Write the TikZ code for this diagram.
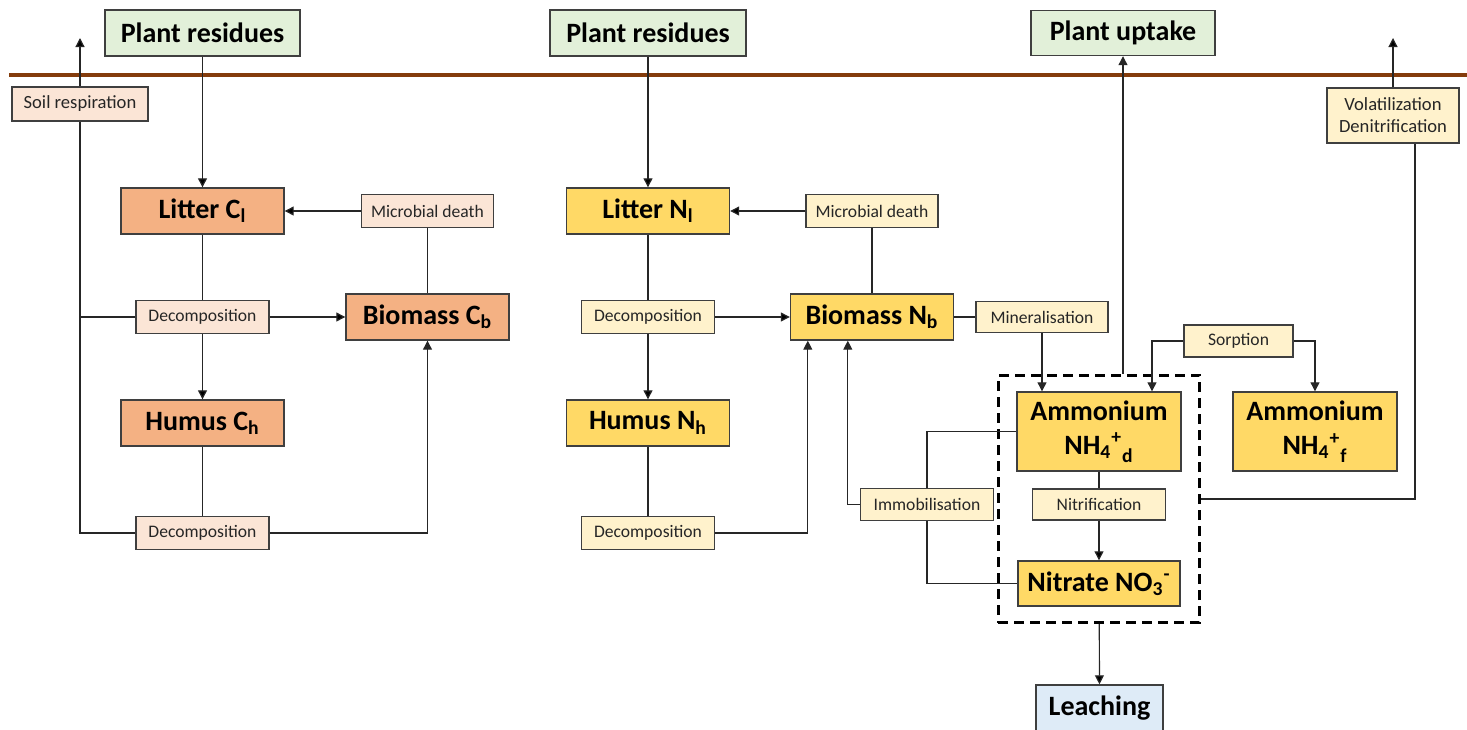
\documentclass[tikz,border=0pt]{standalone}
\usepackage{fontspec}
\setmainfont{Carlito}
\usetikzlibrary{arrows.meta,positioning,fit}

\definecolor{plantfill}{HTML}{E2F0D9}
\definecolor{leachfill}{HTML}{DEEBF7}
\definecolor{cpoolfill}{HTML}{F4B183}
\definecolor{cprocfill}{HTML}{FBE5D6}
\definecolor{npoolfill}{HTML}{FFD966}
\definecolor{nprocfill}{HTML}{FFF2CC}
\definecolor{soilbrown}{HTML}{843C0C}
\definecolor{edgegray}{HTML}{3F3F3F}

\begin{document}
\begin{tikzpicture}[x=0.5pt,y=-0.5pt,on grid,line width=0.6pt,
    >={Triangle[length=4.5pt,width=4.5pt]}]
  \tikzstyle{pool}=[draw=edgegray, line width=0.7pt, inner sep=0pt, align=center,
    font=\fontsize{14}{17}\selectfont\bfseries, minimum width=81.5pt, minimum height=23pt]
  \tikzstyle{cpool}=[pool, fill=cpoolfill]
  \tikzstyle{npool}=[pool, fill=npoolfill]
  \tikzstyle{outside}=[pool, fill=plantfill]
  \tikzstyle{proc}=[draw=edgegray, line width=0.7pt, inner sep=0pt, align=center, text=black!85,
    font=\fontsize{8.8}{11}\selectfont, minimum width=66.5pt, minimum height=16.5pt]
  \tikzstyle{cproc}=[proc, fill=cprocfill]
  \tikzstyle{nproc}=[proc, fill=nprocfill]
  \tikzstyle{flow}=[draw=black!85]

  \useasboundingbox (0,0) rectangle (1467,729);
  \draw[soilbrown, line width=2pt] (9,75) -- (1467,75);

  \node[outside, minimum width=97.5pt] (resC) at (202.5,33) {Plant residues};
  \node[cpool] (litC) [below=89pt of resC] {Litter C\textsubscript{l}};
  \node[cproc] (decC1) [below=53pt of litC] {Decomposition};
  \node[cpool] (humC) [below=53pt of decC1] {Humus C\textsubscript{h}};
  \node[cproc] (decC2) [below=55pt of humC] {Decomposition};
  \node[cpool] (bioC) [right=112.5pt of decC1] {Biomass C\textsubscript{b}};
  \node[cproc, minimum width=66pt] (mdC) [above=53pt of bioC] {Microbial death};
  \node[cproc, minimum width=68pt, minimum height=17pt, font=\fontsize{9.3}{11}\selectfont] (resp) at (80,104) {Soil respiration};
  \coordinate (respout) at (80,38);

  \node[outside, minimum width=98pt] (resN) at (648,33) {Plant residues};
  \node[npool] (litN) [below=89pt of resN] {Litter N\textsubscript{l}};
  \node[nproc] (decN1) [below=53pt of litN] {Decomposition};
  \node[npool] (humN) [below=53pt of decN1] {Humus N\textsubscript{h}};
  \node[nproc] (decN2) [below=55pt of humN] {Decomposition};
  \node[npool] (bioN) [right=112pt of decN1] {Biomass N\textsubscript{b}};
  \node[nproc, minimum width=66pt] (mdN) [above=53pt of bioN] {Microbial death};
  \node[nproc, minimum width=66pt, minimum height=15.5pt] (minl) [right=85pt of bioN] {Mineralisation};

  \node[npool, minimum width=82pt, minimum height=39.5pt] (amd) at (1099,431.5)
    {Ammonium\\NH\textsubscript{4}\textsuperscript{+}\textsubscript{\raisebox{-0.35ex}{d}}};
  \node[nproc, minimum height=15.5pt] (nit) [below=36.5pt of amd] {Nitrification};
  \node[npool, minimum width=81pt, minimum height=22.5pt] (nitr) [below=39.5pt of nit] {Nitrate NO\textsubscript{3}\textsuperscript{-}};
  \node[nproc, minimum height=16pt] (imm) [left=86pt of nit] {Immobilisation};
  \node[npool, minimum width=82pt, minimum height=39.5pt] (amf) [right=108pt of amd]
    {Ammonium\\NH\textsubscript{4}\textsuperscript{+}\textsubscript{\raisebox{-0.35ex}{f}}};
  \node[nproc, minimum width=54.5pt, minimum height=16pt] (sorp) at (1238.5,341) {Sorption};
  \node[draw=black, line width=1.5pt, dash pattern=on 5pt off 3pt, inner xsep=9pt, inner ysep=8pt,
    fit=(amd)(nitr)] (dpool) {};

  \node[outside, minimum width=92pt, minimum height=22.5pt] (upt) at (1123,33) {Plant uptake};
  \node[pool, fill=leachfill, minimum width=63.5pt] (leach) at (1099.5,708) {Leaching};
  \node[nproc, minimum width=66pt, minimum height=27.5pt, font=\fontsize{9.3}{11}\selectfont] (vol) at (1393,115.5)
    {Volatilization\\Denitrification};
  \coordinate (volout) at (1393,38);

  \path[flow,->] (resC) edge (litC) (mdC) edge (litC) (decC1) edge (humC) (decC1) edge (bioC)
    (resp) edge (respout);
  \path[flow] (mdC) edge (bioC) (litC) edge (decC1) (humC) edge (decC2)
    (decC1.west) edge (decC1.west -| resp.south);
  \draw[flow,->] (decC2.east) -| (bioC.south);
  \draw[flow] (decC2.west) -| (resp.south);

  \path[flow,->] (resN) edge (litN) (mdN) edge (litN) (decN1) edge (humN) (decN1) edge (bioN)
    (nit) edge (nitr) (dpool) edge (leach) (vol) edge (volout);
  \path[flow] (mdN) edge (bioN) (litN) edge (decN1) (humN) edge (decN2) (bioN) edge (minl)
    (amd) edge (nit);
  \draw[flow,->] (decN2.east) -| ([xshift=9pt]bioN.south west);
  \draw[flow,->] (imm.west) -| ([xshift=29pt]bioN.south west);
  \draw[flow] (imm.north) |- (amd.west);
  \draw[flow] (imm.south) |- (nitr.west);
  \draw[flow,->] (minl.south) -- (minl.south |- amd.north);
  \draw[flow,->] (sorp.west) -| ([xshift=26.5pt]amd.north);
  \draw[flow,->] (sorp.east) -| (amf.north);
  \draw[flow,->] (dpool.north -| upt.south) -- (upt.south);
  \draw[flow] ([xshift=11pt]vol.south) |- (dpool.east);
\end{tikzpicture}
\end{document}
